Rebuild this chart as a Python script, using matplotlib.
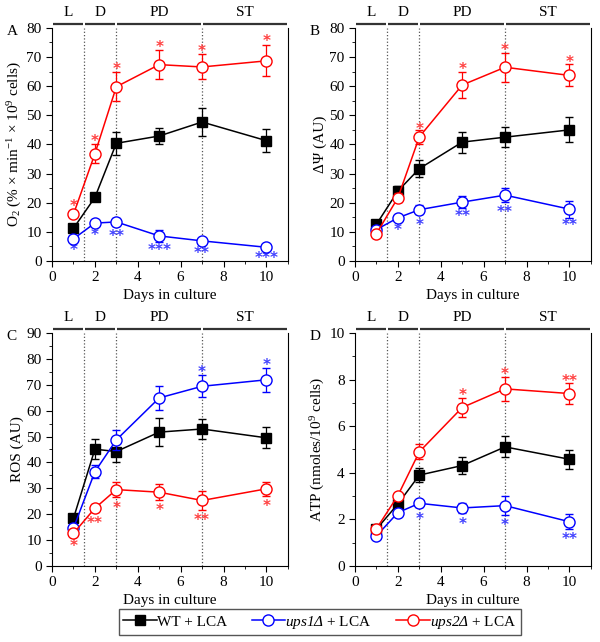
import matplotlib
matplotlib.use('Agg')
import matplotlib.pyplot as plt
from matplotlib.ticker import MultipleLocator
import matplotlib.transforms as mtransforms

plt.rcParams['font.family'] = ['Liberation Serif', 'DejaVu Serif']
plt.rcParams['mathtext.fontset'] = 'custom'
plt.rcParams['mathtext.rm'] = 'Liberation Serif'
plt.rcParams['mathtext.it'] = 'Liberation Serif:italic'
# bf slot used for fully italic strain names (digits and Δ too)
plt.rcParams['mathtext.bf'] = 'Liberation Serif:italic'
plt.rcParams['font.size'] = 10

days = [1, 2, 3, 5, 7, 10]

# A: O2 consumption
o2_wt = [11.2, 21.8, 40.4, 42.9, 47.7, 41.3]
o2_wt_err = [1.0, 1.0, 4.0, 2.7, 4.9, 4.0]
o2_u1 = [7.6, 13.0, 13.4, 8.6, 6.9, 4.7]
o2_u1_err = [0.8, 0.8, 1.5, 2.2, 0.6, 0.5]
o2_u2 = [16.0, 36.8, 59.8, 67.4, 66.6, 68.7]
o2_u2_err = [1.0, 3.3, 5.0, 5.0, 4.3, 5.3]
o2_u1_star = ['*', '*', '**', '***', '**', '***']
o2_u1_star_y = [3.6, 8.8, 8.4, 3.6, 2.5, 0.8]
o2_u2_star = ['*', '*', '*', '*', '*', '*']
o2_u2_star_y = [18.8, 41.1, 65.8, 73.4, 71.8, 75.4]

# B: membrane potential
dp_wt = [12.6, 24.0, 31.7, 40.8, 42.5, 45.0]
dp_wt_err = [1.0, 1.8, 3.0, 3.6, 3.4, 4.3]
dp_u1 = [10.8, 14.8, 17.6, 20.2, 22.6, 17.8]
dp_u1_err = [0.8, 1.0, 1.5, 2.1, 2.5, 2.9]
dp_u2 = [9.4, 21.7, 42.6, 60.4, 66.5, 63.7]
dp_u2_err = [0.8, 1.5, 2.5, 4.5, 5.0, 3.8]
dp_u1_star = ['', '*', '*', '**', '**', '**']
dp_u1_star_y = [0, 10.6, 12.3, 15.3, 16.7, 12.1]
dp_u2_star = ['', '', '*', '*', '*', '*']
dp_u2_star_y = [0, 0, 45.2, 65.6, 72.4, 68.1]

# C: ROS
ros_wt = [18.4, 45.1, 44.2, 51.7, 52.9, 49.5]
ros_wt_err = [1.0, 3.9, 4.0, 5.3, 4.0, 4.0]
ros_u1 = [14.6, 36.4, 48.7, 64.9, 69.4, 71.9]
ros_u1_err = [1.0, 2.6, 4.0, 4.7, 4.3, 4.7]
ros_u2 = [12.6, 22.3, 29.5, 28.5, 25.3, 29.8]
ros_u2_err = [0.8, 1.5, 2.9, 3.0, 3.5, 2.7]
ros_u1_star = ['', '', '', '', '*', '*']
ros_u1_star_y = [0, 0, 0, 0, 74.8, 77.5]
ros_u2_star = ['*', '**', '*', '*', '**', '*']
ros_u2_star_y = [7.6, 16.4, 22.2, 21.6, 17.7, 22.8]

# D: ATP
atp_wt = [1.58, 2.66, 3.9, 4.31, 5.11, 4.58]
atp_wt_err = [0.1, 0.15, 0.3, 0.37, 0.45, 0.4]
atp_u1 = [1.29, 2.29, 2.69, 2.49, 2.59, 1.9]
atp_u1_err = [0.08, 0.1, 0.15, 0.2, 0.4, 0.32]
atp_u2 = [1.6, 3.02, 4.9, 6.8, 7.6, 7.4]
atp_u2_err = [0.1, 0.12, 0.33, 0.42, 0.5, 0.45]
atp_u1_star = ['', '', '*', '*', '*', '**']
atp_u1_star_y = [0, 0, 1.98, 1.78, 1.72, 1.12]
atp_u2_star = ['', '', '', '*', '*', '**']
atp_u2_star_y = [0, 0, 0, 7.32, 8.21, 7.93]

phases = ['L', 'D', 'PD', 'ST']
phase_edges = [0, 1.5, 3, 7, 11]

panels = [
    ('A', r'O$_2$ (% × min$^{-1}$ × 10$^9$ cells)', 80, 10, o2_wt, o2_wt_err, o2_u1, o2_u1_err, o2_u2, o2_u2_err,
     o2_u1_star, o2_u1_star_y, o2_u2_star, o2_u2_star_y),
    ('B', 'ΔΨ (AU)', 80, 10, dp_wt, dp_wt_err, dp_u1, dp_u1_err, dp_u2, dp_u2_err,
     dp_u1_star, dp_u1_star_y, dp_u2_star, dp_u2_star_y),
    ('C', 'ROS (AU)', 90, 10, ros_wt, ros_wt_err, ros_u1, ros_u1_err, ros_u2, ros_u2_err,
     ros_u1_star, ros_u1_star_y, ros_u2_star, ros_u2_star_y),
    ('D', r'ATP (nmoles/10$^9$ cells)', 10, 2, atp_wt, atp_wt_err, atp_u1, atp_u1_err, atp_u2, atp_u2_err,
     atp_u1_star, atp_u1_star_y, atp_u2_star, atp_u2_star_y),
]

fig = plt.figure(figsize=(6, 6.42), dpi=100)
rects = [(0.0867, 0.5935), (0.5917, 0.5935), (0.0867, 0.1184), (0.5917, 0.1184)]
w, h = 0.393, 0.363

red_star = '#ff4040'
blue_star = '#4040ff'

for (px, py), p in zip(rects, panels):
    (letter, ylab, ymax, ystep, wt, wte, u1, u1e, u2, u2e, s1, s1y, s2, s2y) = p
    ax = fig.add_axes([px, py, w, h])
    ax.set_xlim(0, 11)
    ax.set_ylim(0, ymax)
    ax.spines['top'].set_visible(False)
    ax.xaxis.set_major_locator(MultipleLocator(2))
    ax.xaxis.set_minor_locator(MultipleLocator(1))
    ax.yaxis.set_major_locator(MultipleLocator(ystep))
    ax.yaxis.set_minor_locator(MultipleLocator(ystep / 2))
    ax.tick_params(which='both', direction='out', right=False, top=False, labelsize=11)
    ax.tick_params(which='major', length=4)
    ax.tick_params(which='minor', length=2.5)

    for xv in phase_edges[1:-1]:
        ax.axvline(xv, color='#555555', ls=':', lw=0.9, zorder=1)

    ax.errorbar(days, wt, yerr=wte, color='black', marker='s', ms=7, mfc='black',
                lw=1.1, capsize=3, elinewidth=0.9, zorder=3)
    ax.errorbar(days, u1, yerr=u1e, color='blue', marker='o', ms=8, mfc='white',
                lw=1.1, capsize=3, elinewidth=0.9, zorder=4)
    ax.errorbar(days, u2, yerr=u2e, color='red', marker='o', ms=8, mfc='white',
                lw=1.1, capsize=3, elinewidth=0.9, zorder=5)
    for xv, s, yv in zip(days, s1, s1y):
        if s:
            ax.text(xv, yv, s, color=blue_star, ha='center', va='center', fontsize=11,
                    fontweight='bold', family='DejaVu Sans')
    for xv, s, yv in zip(days, s2, s2y):
        if s:
            ax.text(xv, yv, s, color=red_star, ha='center', va='center', fontsize=11,
                    fontweight='bold', family='DejaVu Sans')

    # phase bar above the axes
    trans = mtransforms.blended_transform_factory(ax.transData, ax.transAxes)
    for i, name in enumerate(phases):
        a, b = phase_edges[i], phase_edges[i + 1]
        ax.plot([a + 0.05, b - 0.05], [1.017, 1.017], color='#333333', lw=1.6,
                transform=trans, clip_on=False, solid_capstyle='butt')
        ax.text((a + b) / 2, 1.04, name, transform=trans, ha='center', va='bottom', fontsize=11)

    ax.text(-0.17, 0.985, letter, transform=ax.transAxes, ha='center', va='center', fontsize=11)
    ax.set_ylabel(ylab, fontsize=11, labelpad=2)
    ax.set_xlabel('Days in culture', fontsize=11, labelpad=3)

h1, = plt.plot([], [], color='black', marker='s', ms=7, lw=1.1)
h2, = plt.plot([], [], color='blue', marker='o', ms=8, mfc='white', lw=1.1)
h3, = plt.plot([], [], color='red', marker='o', ms=8, mfc='white', lw=1.1)
leg = fig.legend([h1, h2, h3], ['WT + LCA', r'$\mathbf{ups1\Delta}$ + LCA', r'$\mathbf{ups2\Delta}$ + LCA'],
                 loc='center', bbox_to_anchor=(0.533, 0.031), ncol=3, fontsize=11,
                 handlelength=2.2, handletextpad=0.0, columnspacing=1.6, borderpad=0.3,
                 borderaxespad=0.2, fancybox=False, edgecolor='#555555', framealpha=1)
leg.get_frame().set_linewidth(1.0)

fig.savefig('out.png', dpi=100)
